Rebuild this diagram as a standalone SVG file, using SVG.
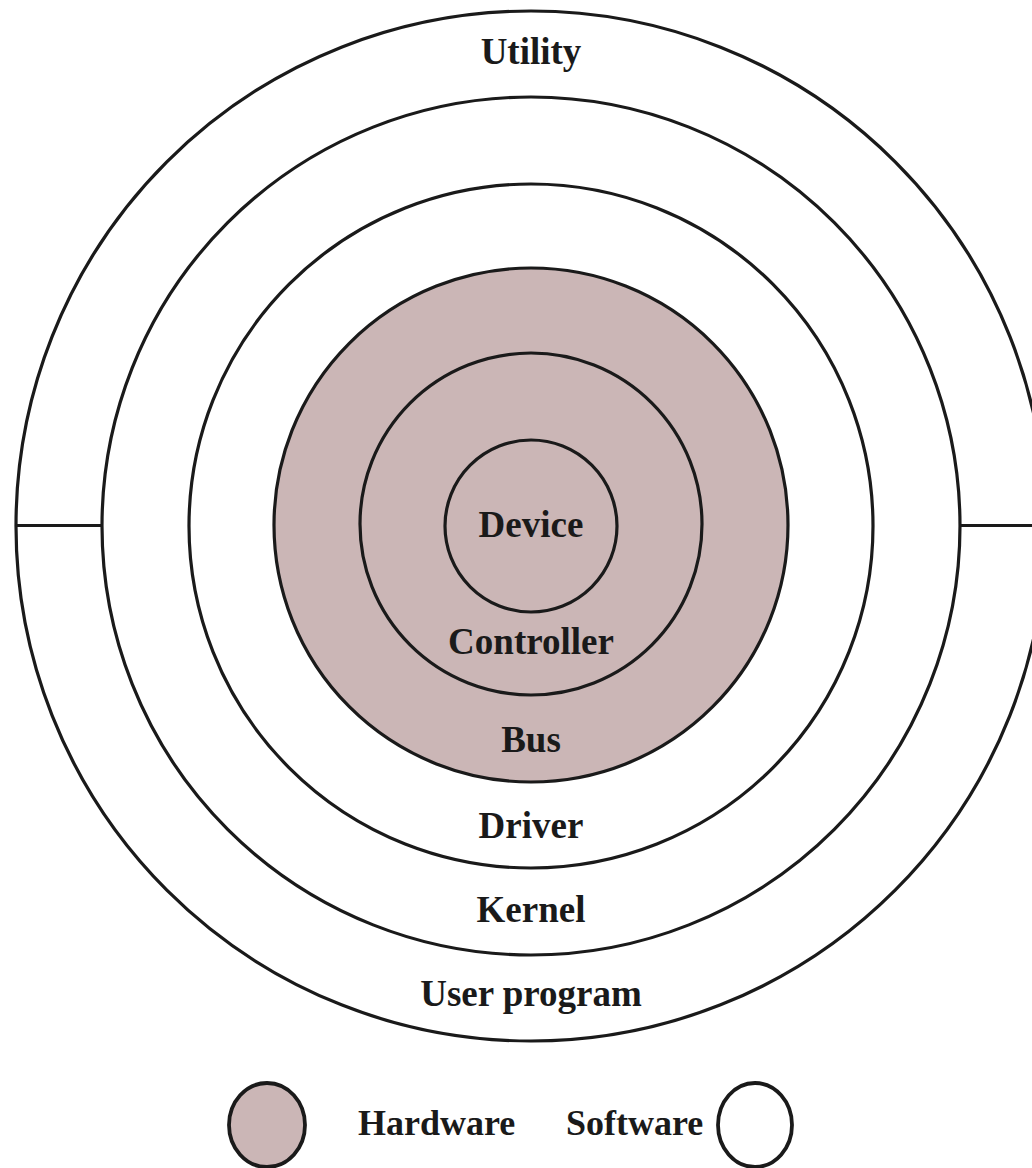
<svg xmlns="http://www.w3.org/2000/svg" width="1032" height="1168" viewBox="0 0 1032 1168">
  <style>
    .ring { fill: none; stroke: #1a1a1a; stroke-width: 3.2; }
    .hw { fill: #cbb6b6; stroke: #1a1a1a; stroke-width: 3.2; }
    .sw { fill: #ffffff; stroke: #1a1a1a; stroke-width: 3.2; }
    .key { stroke-width: 3.8; }
    .lbl { font-family: "Liberation Serif", "Times New Roman", serif; font-weight: bold; font-size: 37px; fill: #1a1a1a; text-anchor: middle; }
    .leg { font-family: "Liberation Serif", "Times New Roman", serif; font-weight: bold; font-size: 36px; fill: #1a1a1a; }
  </style>
  <rect width="1032" height="1168" fill="#ffffff"/>

  <g id="layer-user-program">
    <circle class="sw" cx="531" cy="526" r="515"/>
    <text class="lbl" x="531" y="1006">User program</text>
  </g>
  <g id="layer-utility">
    <text class="lbl" x="531" y="64">Utility</text>
  </g>
  <g id="layer-kernel">
    <circle class="sw" cx="531" cy="526" r="429"/>
    <text class="lbl" x="531" y="922">Kernel</text>
  </g>
  <g id="layer-driver">
    <circle class="sw" cx="531" cy="526" r="342"/>
    <text class="lbl" x="531" y="838">Driver</text>
  </g>
  <g id="layer-bus">
    <circle class="hw" cx="531" cy="525" r="257"/>
    <text class="lbl" x="531" y="752">Bus</text>
  </g>
  <g id="layer-controller">
    <circle class="ring" cx="531" cy="524" r="171"/>
    <text class="lbl" x="531" y="654">Controller</text>
  </g>
  <g id="layer-device">
    <circle class="ring" cx="531" cy="526" r="86"/>
    <text class="lbl" x="531" y="537">Device</text>
  </g>

  <g id="connectors">
    <line class="ring" x1="16" y1="525.5" x2="102" y2="525.5"/>
    <line class="ring" x1="960" y1="525.5" x2="1032" y2="525.5"/>
  </g>

  <g id="legend-hardware">
    <ellipse class="hw key" cx="267" cy="1125" rx="38" ry="42"/>
    <text class="leg" x="358" y="1135">Hardware</text>
  </g>
  <g id="legend-software">
    <text class="leg" x="566" y="1135">Software</text>
    <ellipse class="sw key" cx="755" cy="1125" rx="37" ry="42"/>
  </g>
</svg>
